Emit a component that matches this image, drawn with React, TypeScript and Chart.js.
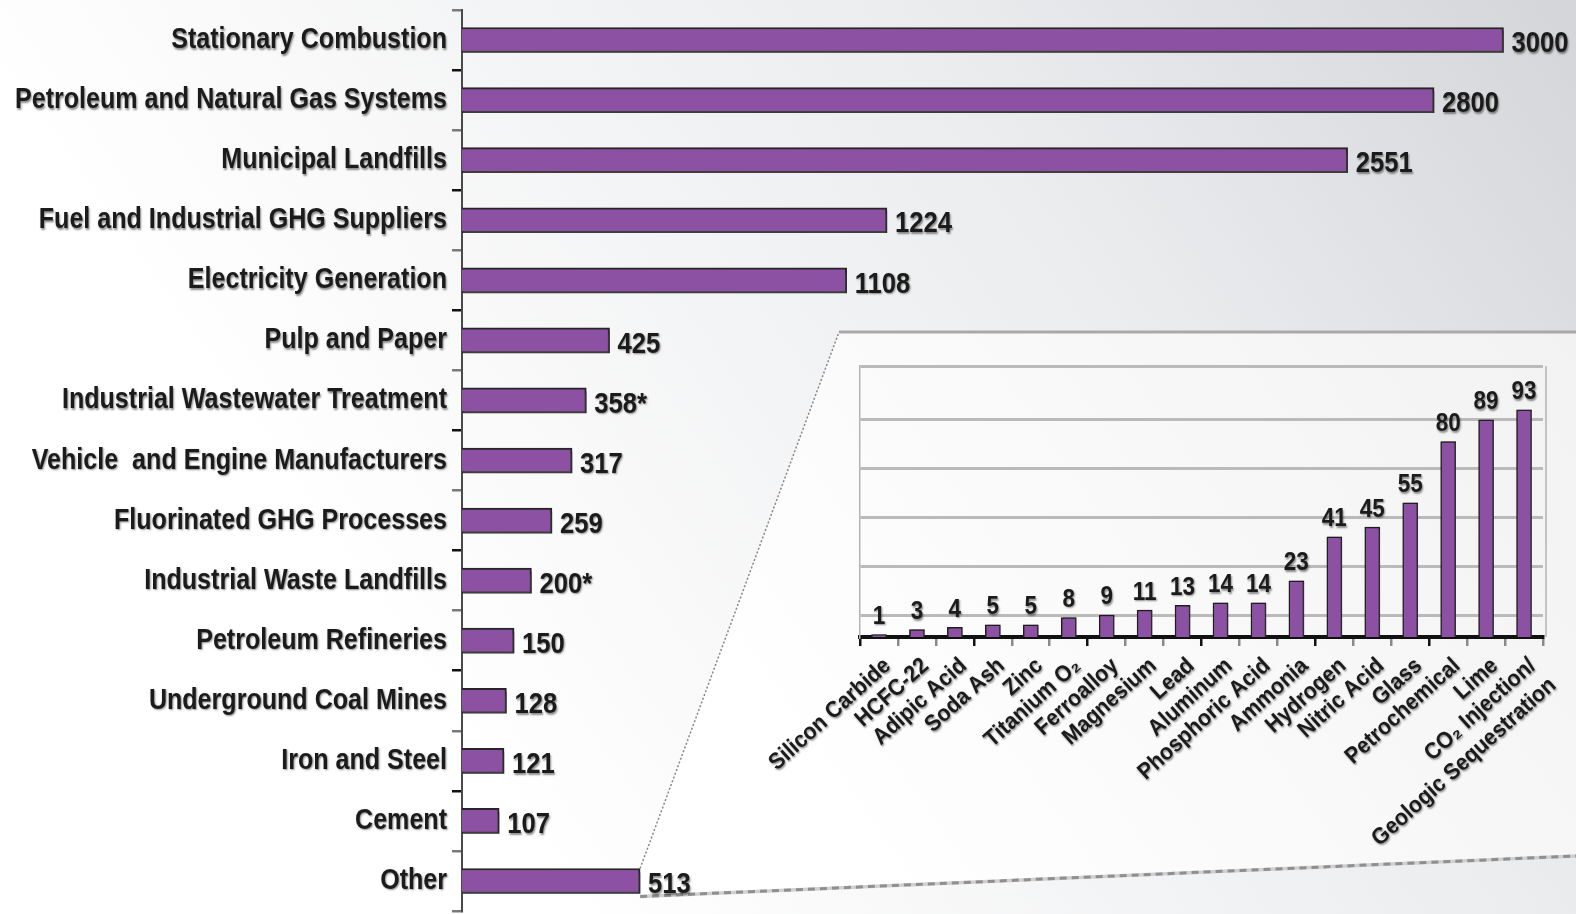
import React, { useEffect, useRef } from "react";
import { Chart, registerables } from "chart.js";

Chart.register(...registerables);

const categories = [
  "Stationary Combustion",
  "Petroleum and Natural Gas Systems",
  "Municipal Landfills",
  "Fuel and Industrial GHG Suppliers",
  "Electricity Generation",
  "Pulp and Paper",
  "Industrial Wastewater Treatment",
  "Vehicle  and Engine Manufacturers",
  "Fluorinated GHG Processes",
  "Industrial Waste Landfills",
  "Petroleum Refineries",
  "Underground Coal Mines",
  "Iron and Steel",
  "Cement",
  "Other",
];
const values = [3000, 2800, 2551, 1224, 1108, 425, 358, 317, 259, 200, 150, 128, 121, 107, 513];
const estimated = [false, false, false, false, false, false, true, false, false, true, false, false, false, false, false];

const insetCategories: (string | string[])[] = [
  "Silicon Carbide",
  "HCFC-22",
  "Adipic Acid",
  "Soda Ash",
  "Zinc",
  "Titanium O₂",
  "Ferroalloy",
  "Magnesium",
  "Lead",
  "Aluminum",
  "Phosphoric Acid",
  "Ammonia",
  "Hydrogen",
  "Nitric Acid",
  "Glass",
  "Petrochemical",
  "Lime",
  ["CO₂ Injection/", "Geologic Sequestration"],
];
const insetValues = [1, 3, 4, 5, 5, 8, 9, 11, 13, 14, 14, 23, 41, 45, 55, 80, 89, 93];
const insetGridValues = [9, 29, 49, 69, 89, 111];

const FONT = '"Liberation Sans", Arial, "DejaVu Sans", sans-serif';
const PURPLE = "#8c51a2";
const TEXT = "#1b1b1b";

const W = 1576;
const H = 914;
const INSET = { left: 740, top: 340, width: 836, height: 574 };

function setTextShadow(ctx: CanvasRenderingContext2D) {
  ctx.shadowColor = "rgba(0,0,0,0.45)";
  ctx.shadowBlur = 2;
  ctx.shadowOffsetX = 1;
  ctx.shadowOffsetY = 1.5;
}
function clearShadow(ctx: CanvasRenderingContext2D) {
  ctx.shadowColor = "rgba(0,0,0,0)";
  ctx.shadowBlur = 0;
  ctx.shadowOffsetX = 0;
  ctx.shadowOffsetY = 0;
}

// horizontal compression factor so that a sample string reaches a target width
function squeeze(ctx: CanvasRenderingContext2D, font: string, sample: string, target: number) {
  ctx.font = font;
  const w = ctx.measureText(sample).width;
  return w > 0 ? Math.min(1, target / w) : 1;
}

function drawSqueezed(
  ctx: CanvasRenderingContext2D,
  text: string,
  x: number,
  y: number,
  sx: number,
  align: CanvasTextAlign,
  baseline: CanvasTextBaseline,
  angle = 0,
  dx = 0,
  dy = 0
) {
  ctx.save();
  ctx.translate(x, y);
  if (angle) ctx.rotate(angle);
  ctx.translate(dx, dy);
  ctx.scale(sx, 1);
  ctx.textAlign = align;
  ctx.textBaseline = baseline;
  ctx.fillText(text, 0, 0);
  ctx.restore();
}

const CAT_FONT = `bold 29px ${FONT}`;
const VAL_FONT = `bold 30px ${FONT}`;
const INSET_VAL_FONT = `bold 25px ${FONT}`;
const INSET_CAT_FONT = `bold 23px ${FONT}`;

const mainDecor = {
  id: "mainDecor",
  beforeDraw(chart: any) {
    const { ctx, width, height } = chart;
    ctx.save();
    const g = ctx.createLinearGradient(width, 0, width * 0.3, height * 0.85);
    g.addColorStop(0, "#d4d5d9");
    g.addColorStop(0.4, "#ebecee");
    g.addColorStop(1, "#ffffff");
    ctx.fillStyle = g;
    ctx.fillRect(0, 0, width, height);

    const meta = chart.getDatasetMeta(0);
    const last = meta.data[meta.data.length - 1];
    const p = last.getProps(["x", "y", "height"], true);
    const x0 = p.x;
    const yTop = p.y - p.height / 2;
    const yBot = p.y + p.height / 2 + 3;
    const boxTopX = 839;
    const boxTopY = 332;
    const rightBotY = 856;

    ctx.beginPath();
    ctx.moveTo(x0, yTop);
    ctx.lineTo(boxTopX, boxTopY);
    ctx.lineTo(width, boxTopY);
    ctx.lineTo(width, rightBotY);
    ctx.lineTo(x0, yBot);
    ctx.closePath();
    const g2 = ctx.createLinearGradient(width, boxTopY, boxTopX, rightBotY);
    g2.addColorStop(0, "#f2f2f3");
    g2.addColorStop(1, "#ffffff");
    ctx.fillStyle = g2;
    ctx.fill();

    ctx.setLineDash([2, 2]);
    ctx.strokeStyle = "#8a8a8a";
    ctx.lineWidth = 1.5;
    ctx.beginPath();
    ctx.moveTo(x0, yTop);
    ctx.lineTo(boxTopX, boxTopY);
    ctx.stroke();
    ctx.setLineDash([]);
    ctx.strokeStyle = "#a9a9a9";
    ctx.lineWidth = 3;
    ctx.beginPath();
    ctx.moveTo(boxTopX, boxTopY);
    ctx.lineTo(width, boxTopY);
    ctx.stroke();
    ctx.strokeStyle = "#d0d0d0";
    ctx.lineWidth = 3.5;
    ctx.beginPath();
    ctx.moveTo(x0, yBot);
    ctx.lineTo(width, rightBotY);
    ctx.stroke();
    ctx.setLineDash([7, 5]);
    ctx.strokeStyle = "#8f8f8f";
    ctx.lineWidth = 3;
    ctx.beginPath();
    ctx.moveTo(x0, yBot);
    ctx.lineTo(width, rightBotY);
    ctx.stroke();
    ctx.setLineDash([]);
    ctx.restore();
  },
  beforeDatasetsDraw(chart: any) {
    const ctx = chart.ctx;
    ctx.save();
    ctx.shadowColor = "rgba(70,70,70,0.8)";
    ctx.shadowBlur = 2;
    ctx.shadowOffsetX = 1;
    ctx.shadowOffsetY = 4;
  },
  afterDatasetsDraw(chart: any) {
    const ctx = chart.ctx;
    ctx.restore();
    ctx.save();
    ctx.fillStyle = TEXT;
    const sxCat = squeeze(ctx, CAT_FONT, categories[1], 432);
    setTextShadow(ctx);
    const yScale = chart.scales.y;
    categories.forEach((c, i) => {
      drawSqueezed(ctx, c, yScale.right - 15, yScale.getPixelForTick(i), sxCat, "right", "middle");
    });
    const sxVal = squeeze(ctx, VAL_FONT, "3000", 57);
    setTextShadow(ctx);
    const meta = chart.getDatasetMeta(0);
    meta.data.forEach((bar: any, i: number) => {
      const p = bar.getProps(["x", "y"], true);
      const label = String(values[i]) + (estimated[i] ? "*" : "");
      drawSqueezed(ctx, label, p.x + 8, p.y + 4, sxVal, "left", "middle");
    });
    ctx.restore();
    clearShadow(ctx);
  },
};

const insetDecor = {
  id: "insetDecor",
  beforeDatasetsDraw(chart: any) {
    const { ctx, chartArea } = chart;
    ctx.save();
    ctx.strokeStyle = "#b3b3b3";
    ctx.lineWidth = 1.5;
    ctx.beginPath();
    ctx.moveTo(chartArea.right + 3, chartArea.top);
    ctx.lineTo(chartArea.right + 3, chartArea.bottom);
    ctx.stroke();
    ctx.restore();
    ctx.save();
    ctx.shadowColor = "rgba(60,60,60,0.5)";
    ctx.shadowBlur = 1;
    ctx.shadowOffsetX = 2;
    ctx.shadowOffsetY = 0;
  },
  afterDatasetsDraw(chart: any) {
    const ctx = chart.ctx;
    ctx.restore();
    ctx.save();
    ctx.fillStyle = TEXT;
    const sxVal = squeeze(ctx, INSET_VAL_FONT, "93", 25);
    setTextShadow(ctx);
    const meta = chart.getDatasetMeta(0);
    meta.data.forEach((bar: any, i: number) => {
      const p = bar.getProps(["x", "y"], true);
      drawSqueezed(ctx, String(insetValues[i]), p.x, p.y - 5, sxVal, "center", "bottom");
    });

    const sxCat = squeeze(ctx, INSET_CAT_FONT, "Silicon Carbide", 155);
    setTextShadow(ctx);
    const xScale = chart.scales.x;
    const angle = (-42 * Math.PI) / 180;
    const lineH = 28;
    insetCategories.forEach((c, i) => {
      const lines = Array.isArray(c) ? c : [c];
      const ax = xScale.getPixelForTick(i) + 1;
      const ay = xScale.top + 17;
      lines.forEach((ln, j) => {
        drawSqueezed(ctx, ln, ax, ay, sxCat, "right", "top", angle, j * 2, j * lineH);
      });
    });
    ctx.restore();
    clearShadow(ctx);
  },
};

export default function App() {
  const mainRef = useRef<HTMLCanvasElement>(null);
  const insetRef = useRef<HTMLCanvasElement>(null);

  useEffect(() => {
    if (!mainRef.current || !insetRef.current) return;
    const main = new Chart(mainRef.current, {
      type: "bar",
      data: {
        labels: categories,
        datasets: [
          {
            data: values,
            backgroundColor: PURPLE,
            borderColor: "#262626",
            borderWidth: 2,
            barThickness: 25,
          },
        ],
      },
      options: {
        indexAxis: "y",
        responsive: false,
        animation: false,
        layout: { padding: { left: 0, right: 10, top: 10, bottom: 3 } },
        plugins: { legend: { display: false }, tooltip: { enabled: false } },
        scales: {
          x: { display: false, min: 0, max: 3180 },
          y: {
            grid: {
              drawOnChartArea: false,
              drawTicks: true,
              tickLength: 10,
              offset: true,
              lineWidth: 2.5,
              color: (c: any) => (c.index % 2 === 1 ? "#111111" : "#7a7a7a"),
            },
            border: { display: true, color: "#4a4a4a", width: 2 },
            ticks: { display: false, autoSkip: false },
            afterFit(s: any) {
              s.width = 462;
              s.paddingTop = 0;
              s.paddingBottom = 0;
            },
          },
        },
      },
      plugins: [mainDecor],
    } as any);

    const inset = new Chart(insetRef.current, {
      type: "bar",
      data: {
        labels: insetCategories,
        datasets: [
          {
            data: insetValues,
            backgroundColor: PURPLE,
            borderColor: "#1e1e1e",
            borderWidth: 1.5,
            barThickness: 15,
          },
        ],
      },
      options: {
        responsive: false,
        animation: false,
        layout: { padding: { left: 120, right: 33, top: 26, bottom: 0 } },
        plugins: { legend: { display: false }, tooltip: { enabled: false } },
        scales: {
          x: {
            grid: {
              drawOnChartArea: false,
              drawTicks: true,
              tickLength: 9,
              offset: true,
              lineWidth: 2.5,
              color: (c: any) => (c.index % 3 === 0 ? "#111111" : "#8a8a8a"),
            },
            border: { display: true, color: "#111111", width: 4 },
            ticks: { display: false, autoSkip: false },
            afterFit(s: any) {
              s.height = 277;
              s.paddingLeft = 0;
              s.paddingRight = 0;
            },
          },
          y: {
            min: 0,
            max: 111,
            afterBuildTicks(s: any) {
              s.ticks = insetGridValues.map((v) => ({ value: v }));
            },
            grid: { color: "#bababa", lineWidth: 3, drawTicks: false },
            border: { display: true, color: "#b3b3b3", width: 1.5 },
            ticks: { display: false },
            afterFit(s: any) {
              s.width = 0;
              s.paddingTop = 0;
              s.paddingBottom = 0;
            },
          },
        },
      },
      plugins: [insetDecor],
    } as any);

    return () => {
      main.destroy();
      inset.destroy();
    };
  }, []);

  return (
    <div style={{ position: "absolute", left: 0, top: 0, width: W, height: H, overflow: "hidden" }}>
      <canvas
        ref={mainRef}
        width={W}
        height={H}
        style={{ position: "absolute", left: 0, top: 0, width: W, height: H }}
      />
      <canvas
        ref={insetRef}
        width={INSET.width}
        height={INSET.height}
        style={{
          position: "absolute",
          left: INSET.left,
          top: INSET.top,
          width: INSET.width,
          height: INSET.height,
        }}
      />
    </div>
  );
}
